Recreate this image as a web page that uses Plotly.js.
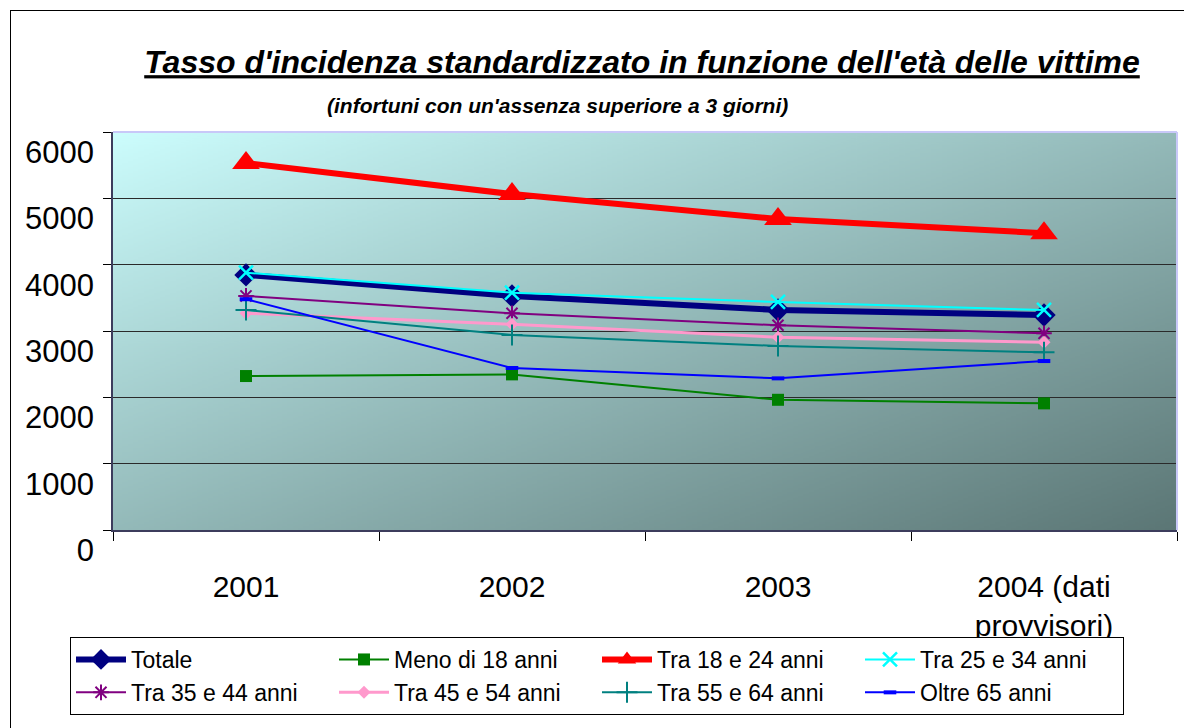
<!DOCTYPE html>
<html>
<head>
<meta charset="utf-8">
<script src="https://cdn.plot.ly/plotly-3.0.1.min.js"></script>
<style>
  html, body { margin: 0; padding: 0; background: #fff; overflow: hidden; }
  #chart { position: absolute; left: 0; top: 0; width: 1184px; height: 728px; }
  #frame { position: absolute; left: 10px; top: 10px; width: 1300px; height: 900px;
           border: 1px solid #000; pointer-events: none; box-sizing: border-box; }
</style>
</head>
<body>
<div id="chart"></div>
<div id="frame"></div>
<script>
// ---- Data ----
const categories = ["2001", "2002", "2003", "2004 (dati<br>provvisori)"];

const seriesNames = [
  "Totale", "Meno di 18 anni", "Tra 18 e 24 anni", "Tra 25 e 34 anni",
  "Tra 35 e 44 anni", "Tra 45 e 54 anni", "Tra 55 e 64 anni", "Oltre 65 anni"
];

const totale   = [3846, 3529, 3317, 3242];
const meno18   = [2321, 2346, 1963, 1909];
const tra18_24 = [5532, 5064, 4687, 4475];
const tra25_34 = [3880, 3578, 3438, 3317];
const tra35_44 = [3529, 3267, 3086, 2965];
const tra45_54 = [3267, 3101, 2905, 2830];
const tra55_64 = [3317, 2940, 2774, 2679];
const oltre65  = [3479, 2442, 2286, 2547];

const yTicks = [0, 1000, 2000, 3000, 4000, 5000, 6000];

// ---- Styles ----
const seriesValues = [totale, meno18, tra18_24, tra25_34, tra35_44, tra45_54, tra55_64, oltre65];
const styles = [
  {color: "#000080", width: 6, symbol: "diamond", size: 18, mlw: 0},
  {color: "#008000", width: 2, symbol: "square", size: 12, mlw: 0},
  {color: "#FF0000", width: 6, symbol: "triangle-up", size: 24, mlw: 0},
  {color: "#00FFFF", width: 2, symbol: "x-thin-open", size: 14, mlw: 2.5},
  {color: "#800080", width: 2, symbol: "asterisk-open", size: 13, mlw: 2},
  {color: "#FF99CC", width: 3, symbol: "diamond", size: 10, mlw: 0},
  {color: "#008080", width: 2, symbol: "cross-thin-open", size: 15, mlw: 2},
  {color: "#0000FF", width: 2, symbol: "line-ew-open", size: 9, mlw: 4}
];

const traces = seriesNames.map((name, i) => {
  const s = styles[i];
  return {
    type: "scatter",
    mode: "lines+markers",
    name: name,
    x: categories,
    y: seriesValues[i],
    line: {color: s.color, width: s.width},
    marker: {
      color: s.color, symbol: s.symbol, size: s.size,
      line: {color: s.color, width: s.mlw}
    },
    hoverinfo: "x+y+name"
  };
});

// ---- gradient background image (canvas) ----
function gradientURL() {
  const c = document.createElement("canvas");
  c.width = 400; c.height = 400;
  const ctx = c.getContext("2d");
  const g = ctx.createLinearGradient(0, 0, 400, 400);
  g.addColorStop(0, "#CCFDFD");
  g.addColorStop(1, "#5B7675");
  ctx.fillStyle = g;
  ctx.fillRect(0, 0, 400, 400);
  return c.toDataURL("image/png");
}

const font = "Liberation Sans, Arial, sans-serif";

const layout = {
  width: 1184,
  height: 728,
  margin: {l: 113, r: 7, t: 132, b: 198},
  paper_bgcolor: "#FFFFFF",
  plot_bgcolor: "rgba(0,0,0,0)",
  font: {family: font, color: "#000"},
  showlegend: true,
  title: {
    text: "<b><i><u>Tasso d'incidenza standardizzato in funzione dell'età delle vittime</u></i></b>",
    font: {family: font, size: 32, color: "#000"},
    xref: "container", yref: "container",
    x: 642 / 1184, xanchor: "center",
    y: 1 - 62 / 728, yanchor: "middle"
  },
  annotations: [{
    text: "<b><i>(infortuni con un'assenza superiore a 3 giorni)</i></b>",
    xref: "paper", yref: "paper",
    x: (557 - 113) / 1064, y: (530 - 105) / 398,
    xanchor: "center", yanchor: "middle",
    showarrow: false,
    font: {family: font, size: 21, color: "#000"}
  }],
  xaxis: {
    type: "category",
    range: [-0.5, 3.5],
    showgrid: false,
    zeroline: false,
    showline: true,
    linecolor: "#3C3C5C",
    linewidth: 1.5,
    ticks: "outside",
    tickson: "boundaries",
    ticklen: 9,
    tickcolor: "#000",
    tickwidth: 1,
    ticklabelstandoff: 29,
    tickfont: {family: font, size: 30, color: "#000"},
    fixedrange: true
  },
  yaxis: {
    range: [0, 6000],
    tickvals: yTicks,
    ticktext: yTicks.map(String),
    showgrid: true,
    gridcolor: "#2A2A2A",
    gridwidth: 1.4,
    zeroline: false,
    showline: true,
    linecolor: "#3C3C5C",
    linewidth: 1.5,
    ticks: "outside",
    ticklen: 8,
    tickcolor: "#000",
    ticklabelshift: 20,
    ticklabelstandoff: 3,
    tickfont: {family: font, size: 31, color: "#000"},
    fixedrange: true
  },
  shapes: [
    {type: "line", xref: "paper", yref: "paper", x0: 0, x1: 1, y0: 1, y1: 1,
     line: {color: "#C8C8F8", width: 2}, layer: "above"},
    {type: "line", xref: "paper", yref: "paper", x0: 1, x1: 1, y0: 0, y1: 1,
     line: {color: "#C8C8F8", width: 2}, layer: "above"}
  ],
  images: [{
    source: gradientURL(),
    xref: "paper", yref: "paper",
    x: 0, y: 1, sizex: 1, sizey: 1,
    sizing: "stretch", xanchor: "left", yanchor: "top",
    layer: "below"
  }],
  legend: {
    orientation: "h",
    xref: "container", yref: "container",
    x: 70 / 1184, xanchor: "left",
    y: 1 - 637 / 728, yanchor: "top",
    bordercolor: "#000", borderwidth: 1,
    bgcolor: "#FFFFFF",
    font: {family: font, size: 23, color: "#000"},
    entrywidth: 198,
    entrywidthmode: "pixels",
    itemwidth: 50,
    traceorder: "normal"
  }
};

Plotly.newPlot("chart", traces, layout, {displayModeBar: false, staticPlot: false});
</script>
</body>
</html>
